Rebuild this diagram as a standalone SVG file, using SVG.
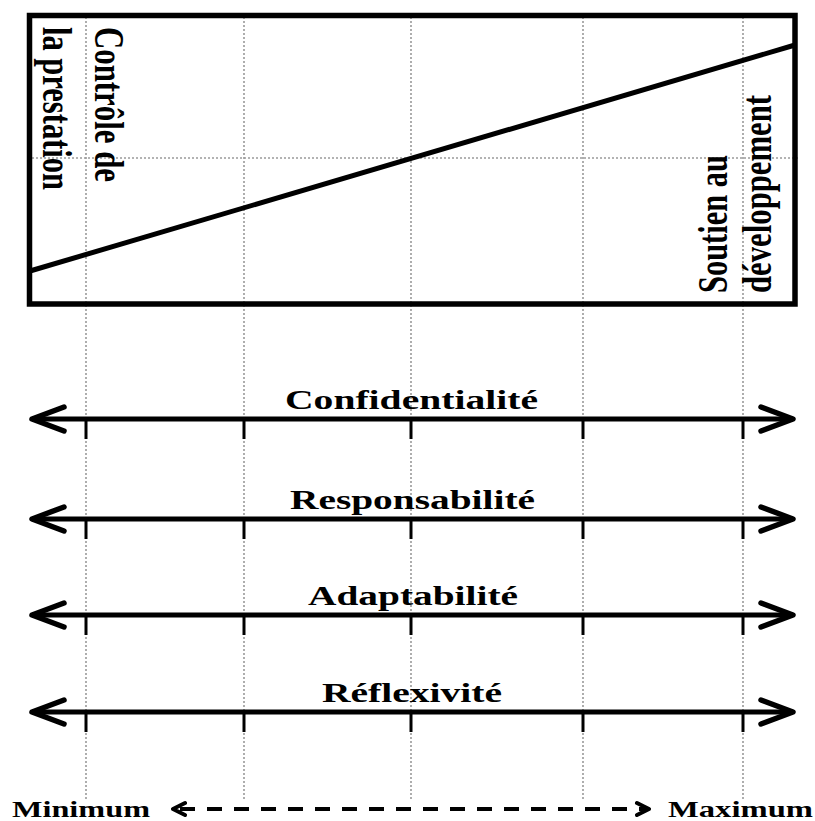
<svg xmlns="http://www.w3.org/2000/svg" width="815" height="821" viewBox="0 0 815 821">
<style>
.grid{stroke:#9a9a9a;stroke-width:1.6;stroke-dasharray:2 2;fill:none}
.lbl{font-family:"Liberation Serif","Times New Roman",serif;font-weight:bold;fill:#000}
.ax{stroke:#000;stroke-width:5;fill:none}
.tick{stroke:#000;stroke-width:3}
.dash{stroke:#000;stroke-width:4;stroke-dasharray:15 12;fill:none}
</style>
<defs>
<marker id="chev" markerUnits="userSpaceOnUse" viewBox="-40 -20 50 40" refX="0" refY="0" markerWidth="50" markerHeight="40" orient="auto-start-reverse" overflow="visible">
<path d="M-32,-12 L0,0 L-32,12" fill="none" stroke="#000" stroke-width="5.5" stroke-linecap="round" stroke-linejoin="round"/>
</marker>
</defs>
<rect width="815" height="821" fill="#fff"/>
<g id="grid">
<line class="grid" x1="86" y1="17" x2="86" y2="800"/>
<line class="grid" x1="244" y1="17" x2="244" y2="800"/>
<line class="grid" x1="411" y1="17" x2="411" y2="800"/>
<line class="grid" x1="583" y1="17" x2="583" y2="800"/>
<line class="grid" x1="743" y1="17" x2="743" y2="800"/>
<line class="grid" x1="32" y1="158" x2="800" y2="158"/>
</g>
<g id="box">
<rect x="29.5" y="15.5" width="765.5" height="288.5" fill="none" stroke="#000" stroke-width="5.5"/>
<line x1="30" y1="271" x2="795" y2="45" stroke="#000" stroke-width="5"/>
<text class="lbl" font-size="30" transform="translate(95,27) scale(1.4,1) rotate(90)" textLength="155" lengthAdjust="spacingAndGlyphs">Contrôle de</text>
<text class="lbl" font-size="30" transform="translate(43,27) scale(1.4,1) rotate(90)" textLength="163" lengthAdjust="spacingAndGlyphs">la prestation</text>
<text class="lbl" font-size="30" transform="translate(727,293) scale(1.4,1) rotate(-90)" textLength="138" lengthAdjust="spacingAndGlyphs">Soutien au</text>
<text class="lbl" font-size="30" transform="translate(771,293) scale(1.4,1) rotate(-90)" textLength="198" lengthAdjust="spacingAndGlyphs">développement</text>
</g>
<g id="connectors">
<line class="ax" x1="32" y1="419" x2="793" y2="419" marker-start="url(#chev)" marker-end="url(#chev)"/>
<line class="ax" x1="32" y1="519" x2="793" y2="519" marker-start="url(#chev)" marker-end="url(#chev)"/>
<line class="ax" x1="32" y1="615" x2="793" y2="615" marker-start="url(#chev)" marker-end="url(#chev)"/>
<line class="ax" x1="32" y1="712" x2="793" y2="712" marker-start="url(#chev)" marker-end="url(#chev)"/>
<line class="dash" x1="180" y1="809" x2="645" y2="809"/>
<path d="M185,803 L173,809 L185,815 M637,803 L649,809 L637,815" fill="none" stroke="#000" stroke-width="4" stroke-linecap="round" stroke-linejoin="round"/>
</g>
<g id="axis-confidentialite">
<g class="tick"><line x1="86" y1="419" x2="86" y2="439"/><line x1="244" y1="419" x2="244" y2="439"/><line x1="411" y1="419" x2="411" y2="439"/><line x1="583" y1="419" x2="583" y2="439"/><line x1="743" y1="419" x2="743" y2="439"/></g>
<text class="lbl" font-size="28" x="285" y="409" textLength="253" lengthAdjust="spacingAndGlyphs">Confidentialité</text>
</g>
<g id="axis-responsabilite">
<g class="tick"><line x1="86" y1="519" x2="86" y2="539"/><line x1="244" y1="519" x2="244" y2="539"/><line x1="411" y1="519" x2="411" y2="539"/><line x1="583" y1="519" x2="583" y2="539"/><line x1="743" y1="519" x2="743" y2="539"/></g>
<text class="lbl" font-size="28" x="290" y="509" textLength="245" lengthAdjust="spacingAndGlyphs">Responsabilité</text>
</g>
<g id="axis-adaptabilite">
<g class="tick"><line x1="86" y1="615" x2="86" y2="635"/><line x1="244" y1="615" x2="244" y2="635"/><line x1="411" y1="615" x2="411" y2="635"/><line x1="583" y1="615" x2="583" y2="635"/><line x1="743" y1="615" x2="743" y2="635"/></g>
<text class="lbl" font-size="28" x="308" y="605" textLength="210" lengthAdjust="spacingAndGlyphs">Adaptabilité</text>
</g>
<g id="axis-reflexivite">
<g class="tick"><line x1="86" y1="712" x2="86" y2="732"/><line x1="244" y1="712" x2="244" y2="732"/><line x1="411" y1="712" x2="411" y2="732"/><line x1="583" y1="712" x2="583" y2="732"/><line x1="743" y1="712" x2="743" y2="732"/></g>
<text class="lbl" font-size="28" x="322" y="702" textLength="180" lengthAdjust="spacingAndGlyphs">Réflexivité</text>
</g>
<g id="minimum"><text class="lbl" font-size="23" x="12" y="817" textLength="138" lengthAdjust="spacingAndGlyphs">Minimum</text></g>
<g id="maximum"><text class="lbl" font-size="23" x="668" y="817" textLength="145" lengthAdjust="spacingAndGlyphs">Maximum</text></g>
</svg>
